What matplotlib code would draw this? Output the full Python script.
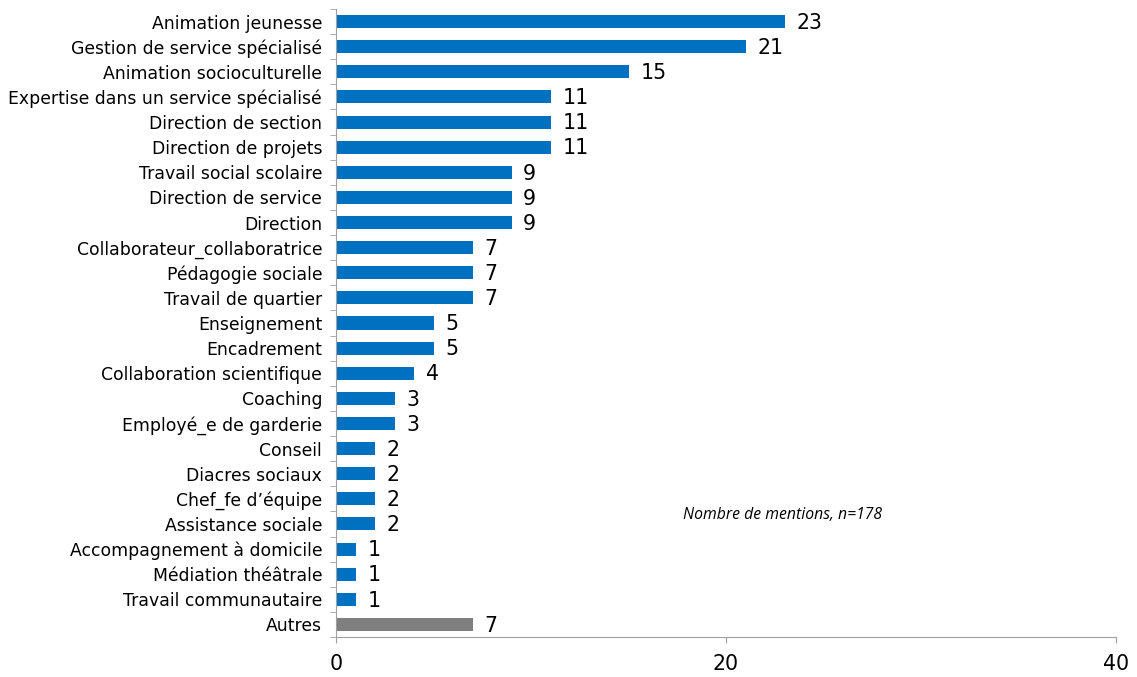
import matplotlib.pyplot as plt

plt.rcParams["font.family"] = ["DejaVu Sans"]

categories = [
    "Animation jeunesse", "Gestion de service spécialisé", "Animation socioculturelle",
    "Expertise dans un service spécialisé", "Direction de section", "Direction de projets",
    "Travail social scolaire", "Direction de service", "Direction",
    "Collaborateur_collaboratrice", "Pédagogie sociale", "Travail de quartier",
    "Enseignement", "Encadrement", "Collaboration scientifique", "Coaching",
    "Employé_e de garderie", "Conseil", "Diacres sociaux", "Chef_fe d\u2019équipe",
    "Assistance sociale", "Accompagnement à domicile", "Médiation théâtrale",
    "Travail communautaire", "Autres",
]
values = [23, 21, 15, 11, 11, 11, 9, 9, 9, 7, 7, 7, 5, 5, 4, 3, 3, 2, 2, 2, 2, 1, 1, 1, 7]
colors = ["#0070C0"] * (len(values) - 1) + ["#7F7F7F"]

fig = plt.figure(figsize=(11.37, 6.77), dpi=100)
ax = fig.add_axes([336 / 1137, 40 / 677, 780 / 1137, 628 / 677])

pos = list(range(len(categories)))
ax.barh(pos, values, height=0.52, color=colors)
for p, v in zip(pos, values):
    ax.text(v + 0.6, p + 0.05, str(v), va="center", ha="left", fontsize=14.8)

ax.set_ylim(len(categories) - 0.5, -0.5)
ax.set_xlim(0, 40)
ax.set_xticks([0, 20, 40])
ax.set_yticks(pos)
ax.set_yticklabels(categories, fontsize=12.4)
ax.set_yticks([p - 0.5 for p in pos] + [len(pos) - 0.5], minor=True)
ax.tick_params(axis="y", which="major", length=0, pad=10)
ax.tick_params(axis="y", which="minor", length=4.5, color="#A0A0A0")
ax.tick_params(axis="x", labelsize=14.8, length=4.5, color="#A0A0A0", pad=8)

for s in ["top", "right"]:
    ax.spines[s].set_visible(False)
for s in ["left", "bottom"]:
    ax.spines[s].set_color("#A0A0A0")

ax.text(22.9, 19.65, "Nombre de mentions, n=178", ha="center", va="center",
        fontsize=11.3, style="italic", family="Open Sans")

fig.savefig("out.png", dpi=100)
